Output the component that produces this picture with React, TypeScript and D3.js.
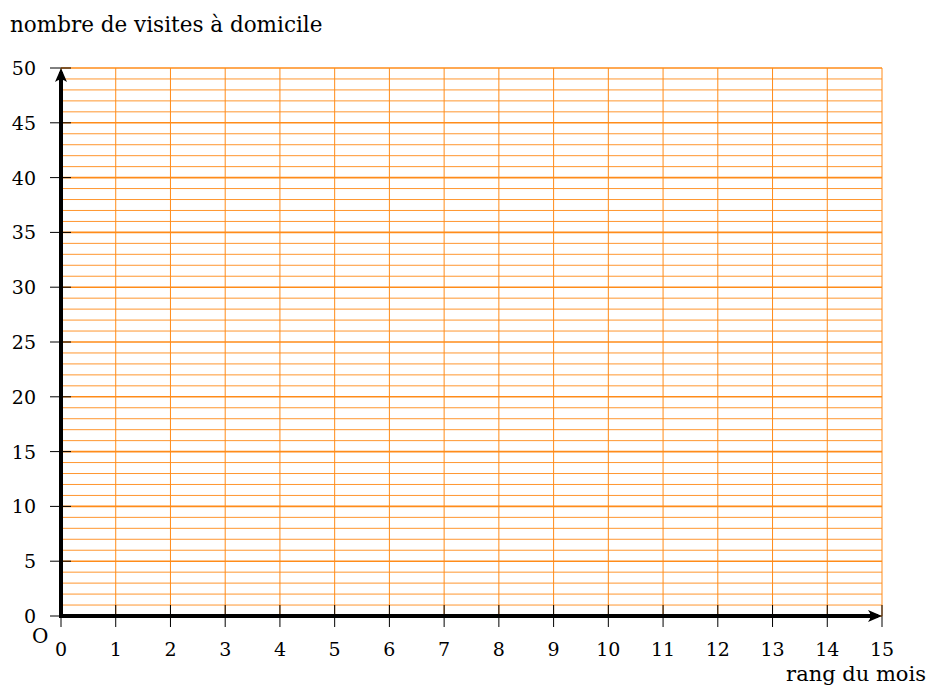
import * as d3 from "d3";
import { useEffect, useRef } from "react";

const xTicks = [0, 1, 2, 3, 4, 5, 6, 7, 8, 9, 10, 11, 12, 13, 14, 15];
const yTicks = [0, 5, 10, 15, 20, 25, 30, 35, 40, 45, 50];
const yGrid = d3.range(0, 51, 1);
const yTitle = "nombre de visites à domicile";
const xTitle = "rang du mois";

export default function App() {
  const svgRef = useRef<SVGSVGElement>(null);

  useEffect(() => {
    if (!svgRef.current) return;
    const svg = d3.select(svgRef.current);
    svg.selectAll("*").remove();

    const x = d3.scaleLinear().domain([0, 15]).range([61, 882]);
    const y = d3.scaleLinear().domain([0, 50]).range([616, 68]);
    const orange = "#ff8c1a";
    const font = "DejaVu Serif";

    // grid
    const grid = svg.append("g");
    grid
      .selectAll("line.h")
      .data(yGrid)
      .enter()
      .append("line")
      .attr("x1", x(0))
      .attr("x2", x(15))
      .attr("y1", (d) => y(d))
      .attr("y2", (d) => y(d))
      .attr("stroke", orange)
      .attr("stroke-width", (d) => (d % 5 === 0 ? 1.6 : 1))
      .attr("opacity", (d) => (d % 5 === 0 ? 1 : 0.9));
    grid
      .selectAll("line.v")
      .data(xTicks)
      .enter()
      .append("line")
      .attr("x1", (d) => x(d))
      .attr("x2", (d) => x(d))
      .attr("y1", y(0))
      .attr("y2", y(50))
      .attr("stroke", orange)
      .attr("stroke-width", 1);

    // ticks
    svg
      .append("g")
      .selectAll("line")
      .data(yTicks)
      .enter()
      .append("line")
      .attr("x1", x(0) - 11)
      .attr("x2", x(0) + 10)
      .attr("y1", (d) => y(d))
      .attr("y2", (d) => y(d))
      .attr("stroke", "#000")
      .attr("stroke-width", 1);
    svg
      .append("g")
      .selectAll("line")
      .data(xTicks)
      .enter()
      .append("line")
      .attr("x1", (d) => x(d))
      .attr("x2", (d) => x(d))
      .attr("y1", y(0) - 11)
      .attr("y2", y(0) + 11)
      .attr("stroke", "#000")
      .attr("stroke-width", 1);

    // axes
    svg
      .append("line")
      .attr("x1", x(0))
      .attr("x2", x(15) - 4)
      .attr("y1", y(0))
      .attr("y2", y(0))
      .attr("stroke", "#000")
      .attr("stroke-width", 4);
    svg
      .append("line")
      .attr("x1", x(0))
      .attr("x2", x(0))
      .attr("y1", y(0) + 2)
      .attr("y2", y(50) + 4)
      .attr("stroke", "#000")
      .attr("stroke-width", 4);
    // arrow heads
    const ax = x(15);
    const ay = y(0);
    svg
      .append("path")
      .attr("d", `M${ax},${ay} L${ax - 14},${ay - 6} Q${ax - 9},${ay} ${ax - 14},${ay + 6} Z`)
      .attr("fill", "#000");
    const bx = x(0);
    const by = y(50);
    svg
      .append("path")
      .attr("d", `M${bx},${by} L${bx - 6},${by + 14} Q${bx},${by + 9} ${bx + 6},${by + 14} Z`)
      .attr("fill", "#000");

    // labels
    svg
      .append("g")
      .selectAll("text")
      .data(yTicks)
      .enter()
      .append("text")
      .attr("x", 36)
      .attr("y", (d) => y(d) + 7)
      .attr("text-anchor", "end")
      .attr("font-family", font)
      .attr("font-size", 19)
      .text((d) => d);
    svg
      .append("g")
      .selectAll("text")
      .data(xTicks)
      .enter()
      .append("text")
      .attr("x", (d) => x(d))
      .attr("y", 656)
      .attr("text-anchor", "middle")
      .attr("font-family", font)
      .attr("font-size", 19)
      .text((d) => d);
    svg
      .append("text")
      .attr("x", 32)
      .attr("y", 643)
      .attr("font-family", font)
      .attr("font-size", 20)
      .text("O");
    svg
      .append("text")
      .attr("x", 10)
      .attr("y", 32)
      .attr("font-family", font)
      .attr("font-size", 21.5)
      .text(yTitle);
    svg
      .append("text")
      .attr("x", 926)
      .attr("y", 681)
      .attr("text-anchor", "end")
      .attr("font-family", font)
      .attr("font-size", 21)
      .text(xTitle);
  }, []);

  return (
    <svg
      ref={svgRef}
      width={933}
      height={687}
      style={{ position: "absolute", left: 0, top: 0, background: "#fff" }}
    />
  );
}
